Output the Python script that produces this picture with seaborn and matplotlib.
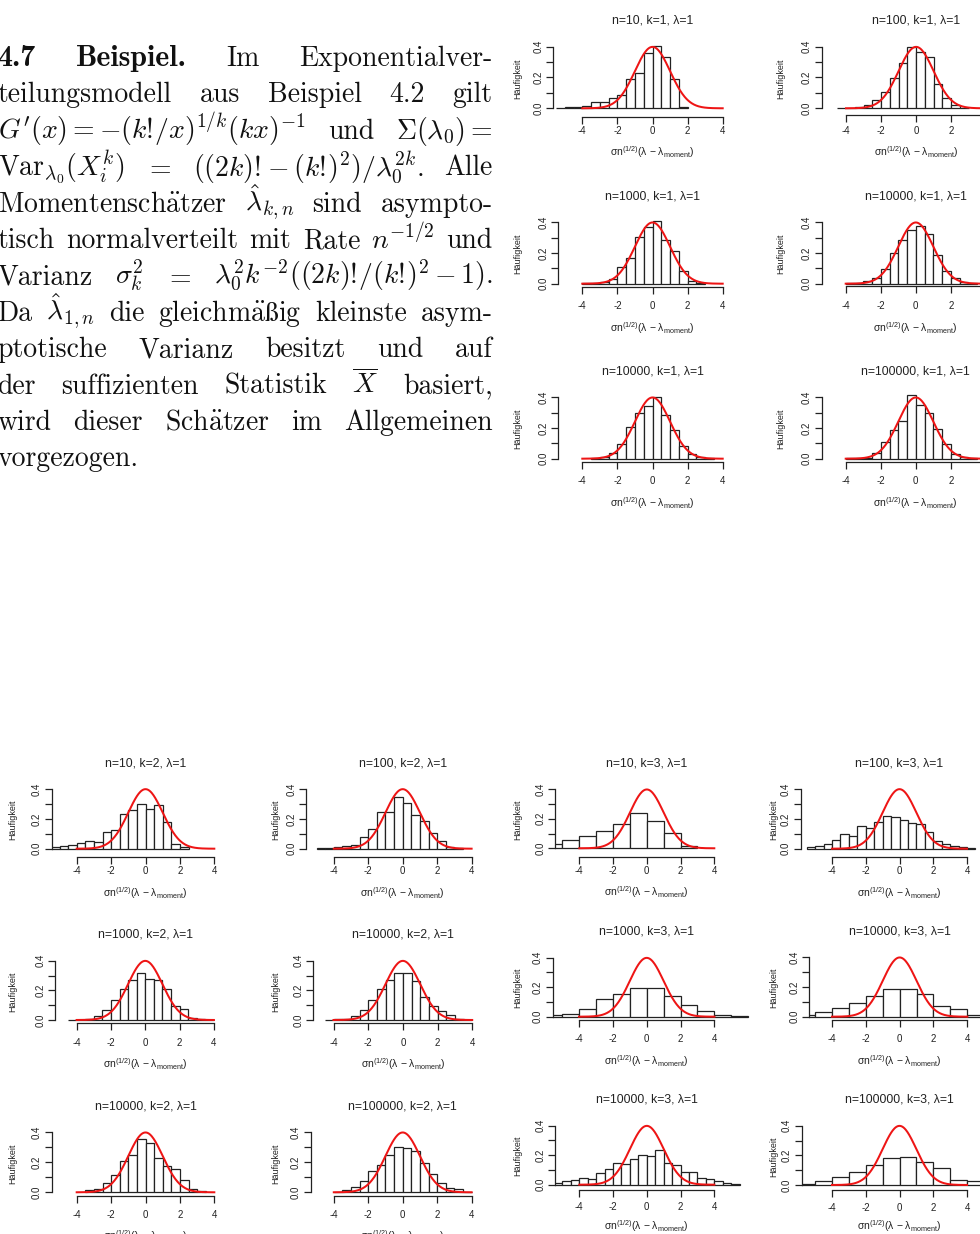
import numpy as np
import pandas as pd
import matplotlib
matplotlib.use("Agg")
import matplotlib.pyplot as plt
import seaborn as sns

# ---------------- data ----------------
titles = [
    "n=10, k=1, λ=1", "n=100, k=1, λ=1",
    "n=1000, k=1, λ=1", "n=10000, k=1, λ=1",
    "n=10000, k=1, λ=1", "n=100000, k=1, λ=1",
    "n=10, k=2, λ=1", "n=100, k=2, λ=1", "n=10, k=3, λ=1", "n=100, k=3, λ=1",
    "n=1000, k=2, λ=1", "n=10000, k=2, λ=1", "n=1000, k=3, λ=1", "n=10000, k=3, λ=1",
    "n=10000, k=2, λ=1", "n=100000, k=2, λ=1", "n=10000, k=3, λ=1", "n=100000, k=3, λ=1",
]
# first break of each histogram and bin width
break_start = [-5.5, -4.5, -4.0, -4.0, -3.5, -4.0,
               -5.5, -5.0, -6.0, -5.5,
               -4.5, -4.5, -6.0, -6.0,
               -3.5, -4.0, -5.5, -6.0]
bin_width = [0.5, 0.5, 0.5, 0.5, 0.5, 0.5,
             0.5, 0.5, 1.0, 0.5,
             0.5, 0.5, 1.0, 1.0,
             0.5, 0.5, 0.5, 1.0]
# densities (Häufigkeit) per bin
h_n10_k1 = [0.002, 0.008, 0.010, 0.015, 0.043, 0.043, 0.069, 0.086, 0.190, 0.231,
            0.357, 0.406, 0.335, 0.190, 0.011]
h_n100_k1 = [0.002, 0.002, 0.010, 0.020, 0.054, 0.108, 0.195, 0.292, 0.396, 0.368,
             0.335, 0.156, 0.069, 0.020, 0.003]
h_n1000_k1 = [0.003, 0.005, 0.010, 0.033, 0.107, 0.170, 0.302, 0.367, 0.407, 0.287,
              0.215, 0.085, 0.020, 0.006]
h_n10000_k1a = [0.002, 0.005, 0.015, 0.040, 0.098, 0.202, 0.287, 0.352, 0.376, 0.322,
                0.187, 0.083, 0.035, 0.009, 0.002]
h_n10000_k1b = [0.003, 0.009, 0.037, 0.096, 0.209, 0.296, 0.346, 0.400, 0.287, 0.185,
                0.085, 0.028, 0.009, 0.002]
h_n100000_k1 = [0.002, 0.003, 0.007, 0.035, 0.109, 0.187, 0.246, 0.413, 0.348, 0.300,
                0.191, 0.096, 0.030, 0.013, 0.003]
h_n10_k2 = [0.009, 0.016, 0.027, 0.038, 0.049, 0.047, 0.112, 0.125, 0.230, 0.259,
            0.297, 0.268, 0.290, 0.181, 0.034, 0.009]
h_n100_k2 = [0.004, 0.002, 0.013, 0.018, 0.027, 0.076, 0.134, 0.248, 0.248, 0.346,
             0.304, 0.223, 0.188, 0.103, 0.054, 0.013, 0.004]
h_n10_k3 = [0.027, 0.054, 0.084, 0.120, 0.163, 0.237, 0.185, 0.102, 0.014]
h_n100_k3 = [0.009, 0.020, 0.034, 0.058, 0.096, 0.083, 0.150, 0.136, 0.179, 0.217,
             0.212, 0.192, 0.174, 0.163, 0.112, 0.049, 0.029, 0.020, 0.011, 0.007]
h_n1000_k2 = [0.003, 0.003, 0.007, 0.029, 0.070, 0.135, 0.207, 0.267, 0.317, 0.276,
              0.267, 0.207, 0.097, 0.076, 0.016, 0.005, 0.002]
h_n10000_k2a = [0.003, 0.004, 0.006, 0.025, 0.067, 0.135, 0.207, 0.270, 0.315, 0.315,
                0.265, 0.155, 0.094, 0.058, 0.031, 0.007, 0.002]
h_n1000_k3 = [0.011, 0.020, 0.050, 0.118, 0.154, 0.197, 0.192, 0.138, 0.077, 0.041,
              0.014, 0.005]
h_n10000_k3a = [0.011, 0.029, 0.061, 0.094, 0.142, 0.189, 0.189, 0.153, 0.074, 0.049,
                0.013]
h_n10000_k2b = [0.016, 0.022, 0.060, 0.116, 0.207, 0.249, 0.358, 0.327, 0.227, 0.173,
                0.153, 0.080, 0.022, 0.009]
h_n100000_k2 = [0.004, 0.013, 0.033, 0.076, 0.142, 0.184, 0.247, 0.304, 0.298, 0.278,
                0.193, 0.124, 0.064, 0.031, 0.020, 0.004]
h_n10000_k3b = [0.009, 0.027, 0.032, 0.045, 0.041, 0.079, 0.104, 0.147, 0.142, 0.174,
                0.201, 0.194, 0.233, 0.145, 0.133, 0.084, 0.088, 0.047, 0.041, 0.025,
                0.014, 0.007]
h_n100000_k3 = [0.007, 0.025, 0.052, 0.085, 0.137, 0.182, 0.189, 0.157, 0.117, 0.036,
                0.025]
heights = [h_n10_k1, h_n100_k1, h_n1000_k1, h_n10000_k1a, h_n10000_k1b, h_n100000_k1,
           h_n10_k2, h_n100_k2, h_n10_k3, h_n100_k3,
           h_n1000_k2, h_n10000_k2a, h_n1000_k3, h_n10000_k3a,
           h_n10000_k2b, h_n100000_k2, h_n10000_k3b, h_n100000_k3]

x_ticks = [-4, -2, 0, 2, 4]
x_ticklabels = ["-4", "-2", "0", "2", "4"]
y_ticks = [0.0, 0.1, 0.2, 0.3, 0.4]
y_ticklabels = ["0.0", "", "0.2", "", "0.4"]
ylab_text = "Häufigkeit"
xlab_text = r"σn$^{(1/2)}$(λ − λ$_{\mathrm{moment}}$)"

# paragraph text (token, kind): r = roman, b = bold, m = math
paragraph = [
    [("4.7", "b"), ("Beispiel.", "b"), ("Im", "r"), ("Exponentialver-", "r")],
    [("teilungsmodell", "r"), ("aus", "r"), ("Beispiel", "r"), ("4.2", "r"), ("gilt", "r")],
    [(r"$G'(x)=-(k!\!/x)^{1/k}(kx)^{-1}$", "m"), ("und", "r"), (r"$\Sigma(\lambda_0)=$", "m")],
    [(r"$\mathrm{Var}_{\lambda_0}(X_i^k)$", "m"), (r"$=$", "m"),
     (r"$((2k)!\!-(k!\!)^2)/\lambda_0^{2k}.$", "m"), ("Alle", "r")],
    [(r"$\mathrm{Momentensch\ddot{a}tzer}$", "m"), (r"$\hat{\lambda}_{k,n}$", "m"),
     ("sind", "r"), ("asympto-", "r")],
    [("tisch", "r"), ("normalverteilt", "r"), ("mit", "r"), ("Rate", "r"),
     (r"$n^{-1/2}$", "m"), ("und", "r")],
    [("Varianz", "r"), (r"$\sigma_k^2$", "m"), (r"$=$", "m"),
     (r"$\lambda_0^2k^{-2}((2k)!\!/(k!\!)^2-1).$", "m")],
    [("Da", "r"), (r"$\hat{\lambda}_{1,n}$", "m"), ("die", "r"),
     (r"$\mathrm{gleichm\ddot{a}ßig}$", "m"), ("kleinste", "r"), ("asym-", "r")],
    [("ptotische", "r"), ("Varianz", "r"), ("besitzt", "r"), ("und", "r"), ("auf", "r")],
    [("der", "r"), ("suffizienten", "r"), ("Statistik", "r"), (r"$\overline{X}$", "m"),
     ("basiert,", "r")],
    [("wird", "r"), ("dieser", "r"), (r"$\mathrm{Sch\ddot{a}tzer}$", "m"), ("im", "r"),
     ("Allgemeinen", "r")],
    [("vorgezogen.", "r")],
]

# ---------------- layout (pixels) ----------------
W, H = 980, 1234
# (y-axis x, x of -4, x of 4, y of 0.0, y of 0.4, x-axis y)
geo = [
    (553.3, 582.3, 722.7, 108.3, 46.7, 117.3),
    (821.7, 846.0, 986.2, 108.3, 46.7, 115.0),
    (558.3, 582.3, 722.7, 283.7, 222.3, 287.3),
    (821.7, 845.7, 985.9, 283.7, 222.3, 286.0),
    (558.3, 582.3, 722.7, 458.7, 397.3, 461.7),
    (821.7, 845.7, 985.9, 458.7, 397.3, 461.7),
    (51.7, 76.7, 214.3, 848.7, 789.0, 857.3),
    (305.9, 333.8, 471.6, 848.7, 789.0, 857.3),
    (555.0, 579.3, 714.3, 848.3, 789.3, 857.3),
    (800.7, 832.0, 967.0, 848.7, 789.0, 857.3),
    (55.0, 76.6, 213.9, 1020.0, 960.7, 1023.3),
    (313.4, 333.5, 472.2, 1020.0, 960.7, 1023.3),
    (552.6, 579.0, 714.4, 1016.7, 957.7, 1020.0),
    (809.3, 832.0, 967.3, 1016.7, 957.3, 1020.0),
    (51.7, 76.7, 214.3, 1192.3, 1132.3, 1196.0),
    (310.5, 333.8, 471.6, 1192.3, 1132.3, 1196.0),
    (555.0, 579.3, 714.3, 1184.7, 1125.7, 1190.0),
    (801.7, 832.0, 967.0, 1185.0, 1125.7, 1190.0),
]
ylab_x = [518, 781, 518, 781, 518, 781,
          13, 276, 518, 774, 13, 276, 518, 774, 13, 276, 518, 774]
xlab_dy = [44] * 16 + [41.5, 41.5]

plt.rcParams['font.family'] = ['Liberation Sans', 'DejaVu Sans']
plt.rcParams['mathtext.fontset'] = 'custom'
plt.rcParams['mathtext.rm'] = 'Liberation Sans'
plt.rcParams['mathtext.it'] = 'Liberation Sans:italic'
plt.rcParams['mathtext.bf'] = 'Liberation Sans:bold'

fig = plt.figure(figsize=(W / 100, H / 100), dpi=100)
fig.patch.set_facecolor("white")

INK = "#222222"
RED = "#ee1515"
xs = np.linspace(-4, 4, 241)
dens = np.exp(-xs ** 2 / 2) / np.sqrt(2 * np.pi)


def fx(px):
    return px / W


def fy(py):
    return 1 - py / H


for i in range(len(titles)):
    left, xm4, xp4, y0, y04, xax = geo[i]
    ux = (xp4 - xm4) / 8.0
    uy = (y0 - y04) / 0.4
    x_lo = -4 - (xm4 - left) / ux
    x_hi = 6.5
    right = xm4 + (x_hi + 4) * ux
    y_lo = -(xax - y0) / uy
    y_hi = 0.46
    top = y0 - y_hi * uy
    ax = fig.add_axes([fx(left), fy(xax), (right - left) / W, (xax - top) / H])
    ax.patch.set_visible(False)

    nb = len(heights[i])
    b0 = break_start[i]
    bw = bin_width[i]
    df = pd.DataFrame({"x": b0 + bw * (np.arange(nb) + 0.5), "w": heights[i]})
    sns.histplot(data=df, x="x", weights="w", binwidth=bw,
                 binrange=(b0, b0 + bw * nb), stat="count", ax=ax,
                 color="white", edgecolor=INK, linewidth=0.9, alpha=1.0)
    sns.lineplot(x=xs, y=dens, ax=ax, color=RED, linewidth=1.45)

    ax.set_xlim(x_lo, x_hi)
    ax.set_ylim(y_lo, y_hi)
    ax.set_xlabel("")
    ax.set_ylabel("")
    for s in ("top", "right"):
        ax.spines[s].set_visible(False)
    ax.spines["left"].set_bounds(0, 0.4)
    ax.spines["bottom"].set_bounds(-4, 4)
    for s in ("left", "bottom"):
        ax.spines[s].set_color(INK)
        ax.spines[s].set_linewidth(0.9)
    ax.set_xticks(x_ticks)
    ax.set_xticklabels(x_ticklabels)
    ax.set_yticks(y_ticks)
    ax.set_yticklabels(y_ticklabels)
    xpad_px = max(1.0, (y0 + 22.5) - xax - 7 - 4.9)
    ax.tick_params(axis="x", direction="out", length=5, width=0.9, color=INK,
                   labelsize=7.0, labelcolor=INK, pad=xpad_px * 0.72)
    ax.tick_params(axis="y", direction="out", length=5, width=0.9, color=INK,
                   labelsize=7.0, labelcolor=INK, pad=2, labelrotation=90)
    for lab in ax.get_yticklabels():
        lab.set_verticalalignment("center")
    # labels that fall beyond the right edge of the page are not shown
    for tv, lab in zip(x_ticks, ax.get_xticklabels()):
        if xm4 + (tv + 4) * ux > W - 4:
            lab.set_visible(False)

    x0px = (xm4 + xp4) / 2
    fig.text(fx(x0px), fy(y04 - 26), titles[i], ha="center", va="center",
             fontsize=8.8, color=INK)
    fig.text(fx(x0px), fy(y0 + xlab_dy[i]), xlab_text, ha="center", va="center",
             fontsize=7.5, color=INK, math_fontfamily="custom")
    fig.text(fx(ylab_x[i]), fy((y0 + y04) / 2 + 1), ylab_text, ha="center",
             va="center", rotation=90, fontsize=6.5, color=INK)

# ---------------- justified paragraph ----------------
renderer = fig.canvas.get_renderer()
xL, xR = -2.5, 492.7
base0, lead = 66.0, 36.4
TXT = "#111111"
for li, toks in enumerate(paragraph):
    yb = base0 + li * lead
    objs = []
    for tok, kind in toks:
        kw = dict(fontsize=20, va="baseline", ha="left", color=TXT)
        if kind == "r":
            kw["family"] = "cmr10"
        elif kind == "b":
            kw["family"] = "cmb10"
            kw["fontsize"] = 21.5
        else:
            kw["math_fontfamily"] = "cm"
        objs.append(fig.text(0, fy(yb), tok, **kw))
    widths = [o.get_window_extent(renderer).width for o in objs]
    if li < len(paragraph) - 1 and len(objs) > 1:
        gap = (xR - xL - sum(widths)) / (len(objs) - 1)
    else:
        gap = 9.0
    x = xL
    for o, w in zip(objs, widths):
        o.set_x(fx(x))
        x += w + gap

fig.savefig("out.png", dpi=100, facecolor="white")
